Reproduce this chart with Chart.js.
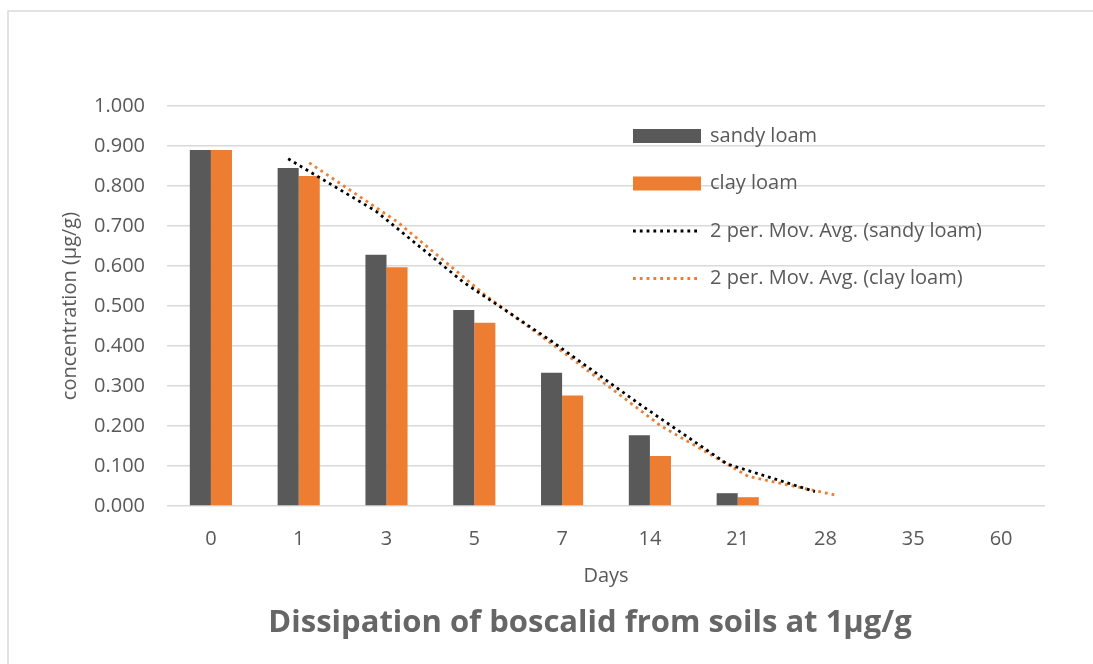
<!DOCTYPE html>
<html>
<head>
<meta charset="utf-8">
<script src="https://cdn.jsdelivr.net/npm/chart.js@4/dist/chart.umd.min.js"></script>
<style>
  html, body { margin: 0; padding: 0; background: #fff; }
  canvas { display: block; }
</style>
</head>
<body>
<canvas id="chart" width="1093" height="664"></canvas>
<script>
// values
var days = ['0', '1', '3', '5', '7', '14', '21', '28', '35', '60'];
var sandyLoam = [0.890, 0.845, 0.628, 0.490, 0.333, 0.177, 0.032, 0, 0, 0];
var clayLoam = [0.890, 0.825, 0.597, 0.458, 0.276, 0.125, 0.022, 0, 0, 0];
var sandyAvg = [null, 0.868, 0.737, 0.559, 0.412, 0.255, 0.105, 0.036, null, null];
var clayAvg = [null, 0.858, 0.711, 0.528, 0.367, 0.201, 0.074, 0.027, null, null];
var yTicks = [0, 0.1, 0.2, 0.3, 0.4, 0.5, 0.6, 0.7, 0.8, 0.9, 1.0];
var chartTitle = 'Dissipation of boscalid from soils at 1µg/g';

var textColor = '#595959';
var gridColor = '#d9d9d9';
var font = "'Open Sans', 'Noto Sans', sans-serif";
var half = 0.12; // half a bar, in category units (pair of bars fills 48% of a category)

// sandy sits left of the category centre, clay right, trendlines follow their bars
function points(vals, side) {
    return vals.map((v, i) => v == null ? null : { x: i + side * half, y: v })
        .filter(p => p != null);
}

var frame = {
    id: 'frame',
    beforeDraw(chart) {
        var ctx = chart.ctx;
        ctx.save();
        ctx.fillStyle = '#fff';
        ctx.fillRect(0, 0, chart.width, chart.height);
        ctx.strokeStyle = gridColor;
        ctx.lineWidth = 1.5;
        ctx.beginPath();
        ctx.moveTo(8, chart.height + 5);
        ctx.lineTo(8, 11);
        ctx.lineTo(chart.width + 5, 11);
        ctx.stroke();
        ctx.restore();
    }
};

// legend inside the plot and the title below it, placed like the reference
var innerLegend = {
    id: 'innerLegend',
    afterDraw(chart) {
        var ctx = chart.ctx;
        var x = 633, y = 136, step = 47.5;
        ctx.save();
        ctx.font = '20px ' + font;
        ctx.textBaseline = 'middle';
        chart.data.datasets.forEach((ds, i) => {
            var cy = y + i * step;
            if (ds.type === 'line') {
                ctx.strokeStyle = ds.borderColor;
                ctx.lineWidth = ds.borderWidth;
                ctx.setLineDash(ds.borderDash);
                ctx.beginPath();
                ctx.moveTo(x, cy);
                ctx.lineTo(x + 66, cy);
                ctx.stroke();
                ctx.setLineDash([]);
            } else {
                ctx.fillStyle = ds.backgroundColor;
                ctx.fillRect(x, cy - 7, 68, 14);
            }
            ctx.fillStyle = textColor;
            ctx.fillText(ds.label, x + 77, cy);
        });
        ctx.font = 'bold 31px ' + font;
        ctx.fillStyle = '#666666';
        ctx.textAlign = 'center';
        ctx.fillText(chartTitle, 590, 623);
        ctx.restore();
    }
};

var barOpts = {
    type: 'bar',
    xAxisID: 'xl',
    grouped: false,
    categoryPercentage: 1,
    barPercentage: 1,
    inflateAmount: 0,
    order: 2
};

var lineOpts = {
    type: 'line',
    xAxisID: 'xl',
    borderWidth: 2.8,
    borderDash: [2.8, 4],
    pointRadius: 0,
    fill: false,
    order: 1
};

new Chart(document.getElementById('chart'), {
    data: {
        labels: days,
        datasets: [
            Object.assign({}, barOpts, {
                label: 'sandy loam',
                data: points(sandyLoam, -1),
                backgroundColor: '#595959'
            }),
            Object.assign({}, barOpts, {
                label: 'clay loam',
                data: points(clayLoam, 1),
                backgroundColor: '#ED7D31'
            }),
            Object.assign({}, lineOpts, {
                label: '2 per. Mov. Avg. (sandy loam)',
                data: points(sandyAvg, -1),
                borderColor: '#000000'
            }),
            Object.assign({}, lineOpts, {
                label: '2 per. Mov. Avg. (clay loam)',
                data: points(clayAvg, 1),
                borderColor: '#ED7D31'
            })
        ]
    },
    options: {
        responsive: false,
        animation: false,
        layout: { padding: { left: 0, right: 48, top: 106, bottom: 59.6 } },
        plugins: {
            legend: { display: false },
            tooltip: { enabled: false },
            title: { display: false }
        },
        scales: {
            x: {
                type: 'category',
                offset: true,
                grid: { display: false, drawTicks: false },
                border: { display: false },
                ticks: { color: textColor, font: { family: font, size: 20 }, padding: 21 },
                title: {
                    display: true, text: 'Days', color: textColor,
                    font: { family: font, size: 20 },
                    padding: { top: 0, bottom: 16 }
                },
                afterFit(scale) { scale.height = 98.4; }
            },
            xl: {
                type: 'linear',
                display: false,
                offset: false,
                min: -0.5,
                max: 9.5
            },
            y: {
                min: 0,
                max: 1,
                afterBuildTicks(scale) { scale.ticks = yTicks.map(v => ({ value: v })); },
                grid: { color: gridColor, lineWidth: 1.5, drawTicks: false },
                border: { display: false },
                ticks: {
                    color: textColor,
                    font: { family: font, size: 20 },
                    padding: 22,
                    callback: v => Number(v).toFixed(3)
                },
                title: {
                    display: true, text: 'concentration (µg/g)', color: textColor,
                    font: { family: font, size: 20 },
                    padding: { top: 58, bottom: 0 }
                },
                afterFit(scale) { scale.width = 167; }
            }
        }
    },
    plugins: [frame, innerLegend]
});
</script>
</body>
</html>
